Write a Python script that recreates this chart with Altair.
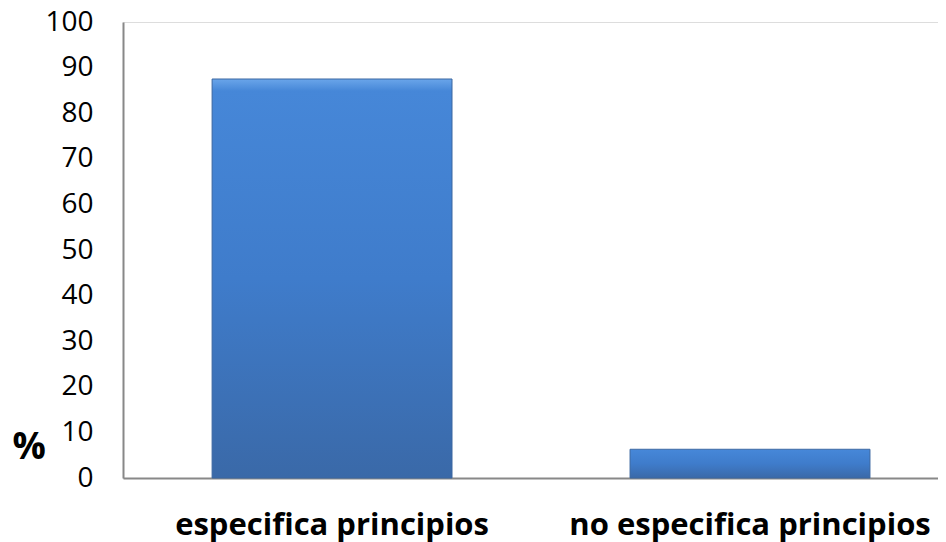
import altair as alt
import pandas as pd

categories = ["especifica principios", "no especifica principios"]
values = [87.5, 6.3]
y_ticks = [0, 10, 20, 30, 40, 50, 60, 70, 80, 90, 100]

df = pd.DataFrame({"cat": categories, "val": values})

FONT = "Open Sans"

grad = alt.Gradient(
    gradient="linear",
    x1=0, y1=0, x2=0, y2=1,
    stops=[
        alt.GradientStop(color="#6aa5ea", offset=0),
        alt.GradientStop(color="#4687d8", offset=0.03),
        alt.GradientStop(color="#3f7ccb", offset=0.5),
        alt.GradientStop(color="#3a69a8", offset=1),
    ],
)

chart = (
    alt.Chart(df)
    .mark_bar(color=grad, stroke="#3a66a0", strokeWidth=1)
    .encode(
        x=alt.X(
            "cat:N",
            sort=categories,
            scale=alt.Scale(paddingInner=0.426, paddingOuter=0.188, align=0.567),
            axis=alt.Axis(
                title=None,
                labelAngle=0,
                labelFont=FONT,
                labelFontSize=31,
                labelFontWeight="bold",
                labelColor="#000000",
                labelPadding=32,
                labelLimit=500,
                ticks=False,
                domainColor="#888888",
                domainWidth=2,
            ),
        ),
        y=alt.Y(
            "val:Q",
            scale=alt.Scale(domain=[0, 100]),
            axis=alt.Axis(
                values=y_ticks,
                title="%",
                titleAngle=0,
                titleFont=FONT,
                titleFontSize=37,
                titleFontWeight="bold",
                titleColor="#000000",
                titleX=-111,
                titleY=425,
                titleAlign="left",
                titleBaseline="middle",
                labelFont=FONT,
                labelFontSize=28,
                labelColor="#000000",
                labelPadding=30,
                ticks=False,
                grid=False,
                domainColor="#888888",
                domainWidth=2,
            ),
        ),
    )
    .properties(
        width=815,
        height=456,
        padding={"left": 115, "top": 14, "right": 0, "bottom": 64},
        autosize=alt.AutoSizeParams(type="none"),
    )
    .configure_view(stroke=None)
    .configure(background="#ffffff")
)

chart.save("out.html", embed_options={"renderer": "svg", "actions": False})
